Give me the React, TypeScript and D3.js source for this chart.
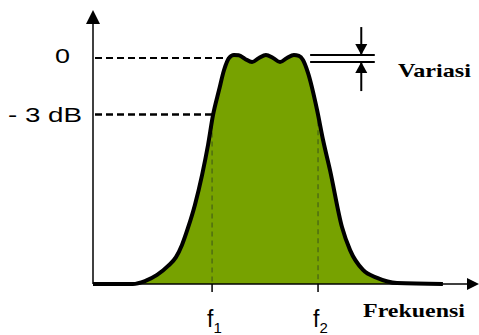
import React from "react";
import * as d3 from "d3";

// response curve (frequency in arbitrary units, level relative to passband = 1)
const freq = [0, 2.07, 2.69, 3.32, 3.89, 4.3, 4.61, 4.92, 5.28, 5.65, 5.96, 6.22, 6.53, 6.79, 7.05, 7.3,
  7.55, 7.88, 8.24, 8.6, 8.96, 9.33, 9.69, 10.05, 10.41, 10.67, 10.88,
  11.14, 11.61, 11.92, 12.28, 12.9, 13.32, 13.99, 14.72, 15.75, 18.13];
const level = [0, 0, 0.013, 0.04, 0.08, 0.119, 0.173, 0.248, 0.35, 0.482, 0.615, 0.748, 0.858, 0.947, 1.0, 1.013,
  1.012, 0.996, 0.982, 1.0, 1.013, 1.0, 0.982, 1.0, 1.013, 1.009, 0.991,
  0.934, 0.77, 0.637, 0.504, 0.252, 0.15, 0.062, 0.027, 0.004, 0];

const levelTicks = [1.0, 0.75];
const levelLabels = ["0", "- 3 dB"];
const levelEnds = [7.05, 6.2];

const cutoffs = [6.17, 11.66];
const cutoffTops = [0.75, 0.72];
const cutoffSubs = ["1", "2"];

const ripple = [1.013, 0.982];
const rippleSpan = [11.25, 14.6];
const rippleArrowAt = 13.9;

const xMax = 20;
const yMax = 1.212;

export default function App() {
  const x = d3.scaleLinear().domain([0, xMax]).range([93, 479]);
  const y = d3.scaleLinear().domain([0, 1]).range([284, 58]);

  const pts: [number, number][] = freq.map((f, i) => [f, level[i]]);
  const line = d3
    .line<[number, number]>()
    .x((d) => x(d[0]))
    .y((d) => y(d[1]))
    .curve(d3.curveMonotoneX);
  const area = d3
    .area<[number, number]>()
    .x((d) => x(d[0]))
    .y0(y(0))
    .y1((d) => y(d[1]))
    .curve(d3.curveMonotoneX);

  const ax = x(0);
  const ay = y(0);
  const ytop = y(yMax);
  const xr = x(xMax);

  const vx = x(rippleArrowAt);
  const rTop = y(ripple[0]);
  const rBot = y(ripple[1]);

  const sans = "'Liberation Sans', Arial, sans-serif";
  const serif = "'Liberation Serif', 'Times New Roman', serif";

  return (
    <div style={{ position: "absolute", left: 0, top: 0 }}>
      <svg width={479} height={335} style={{ display: "block", background: "#fff" }}>
        {/* filled response */}
        <path d={area(pts) || ""} fill="#77a200" />

        {/* cutoff dashed lines */}
        {cutoffs.map((c, i) => (
          <g key={"c" + i}>
            <line x1={x(c)} x2={x(c)} y1={y(cutoffTops[i])} y2={ay}
              stroke="#4f6e12" strokeWidth={1.5} strokeDasharray="5,4" />
            <line x1={x(c)} x2={x(c)} y1={ay} y2={ay + 8} stroke="#000" strokeWidth={1.5} />
            <text x={x(c) - 5} y={327} fontFamily={sans} fontSize={23} fill="#000">
              f<tspan fontSize={15} dy={6}>{cutoffSubs[i]}</tspan>
            </text>
          </g>
        ))}

        {/* level reference lines */}
        {levelTicks.map((t, i) => (
          <line key={"l" + i} x1={ax + 2} x2={x(levelEnds[i])} y1={y(t)} y2={y(t)}
            stroke="#000" strokeWidth={i === 0 ? 2 : 2.5} strokeDasharray="7,4" />
        ))}
        <text x={55} y={63} fontFamily={sans} fontSize={21} textLength={15} lengthAdjust="spacingAndGlyphs">
          {levelLabels[0]}
        </text>
        <text x={8} y={122} fontFamily={sans} fontSize={21} textLength={74} lengthAdjust="spacingAndGlyphs">
          {levelLabels[1]}
        </text>

        {/* axes */}
        <line x1={ax} x2={ax} y1={ay} y2={ytop + 10} stroke="#000" strokeWidth={1.5} />
        <path d={`M${ax},${ytop} L${ax - 7},${ytop + 14} L${ax + 7},${ytop + 14} Z`} fill="#000" />
        <line x1={ax} x2={xr - 10} y1={ay} y2={ay} stroke="#000" strokeWidth={1.5} />
        <path d={`M${xr},${ay} L${xr - 12},${ay - 6} L${xr - 12},${ay + 6} Z`} fill="#000" />

        {/* response outline */}
        <path d={line(pts) || ""} fill="none" stroke="#000" strokeWidth={4} strokeLinejoin="round" />

        {/* ripple marker */}
        {ripple.map((r, i) => (
          <line key={"r" + i} x1={x(rippleSpan[0])} x2={x(rippleSpan[1])} y1={y(r)} y2={y(r)}
            stroke="#000" strokeWidth={2} />
        ))}
        <line x1={vx} x2={vx} y1={rTop - 28} y2={rTop} stroke="#000" strokeWidth={2} />
        <path d={`M${vx},${rTop} L${vx - 6},${rTop - 11} L${vx + 6},${rTop - 11} Z`} fill="#000" />
        <line x1={vx} x2={vx} y1={rBot} y2={rBot + 29} stroke="#000" strokeWidth={2} />
        <path d={`M${vx},${rBot} L${vx - 6},${rBot + 11} L${vx + 6},${rBot + 11} Z`} fill="#000" />

        <text x={398} y={77} fontFamily={serif} fontWeight="bold" fontSize={19} textLength={73}
          lengthAdjust="spacingAndGlyphs">
          Variasi
        </text>
        <text x={363} y={317} fontFamily={serif} fontWeight="bold" fontSize={19} textLength={102}
          lengthAdjust="spacingAndGlyphs">
          Frekuensi
        </text>
      </svg>
    </div>
  );
}
